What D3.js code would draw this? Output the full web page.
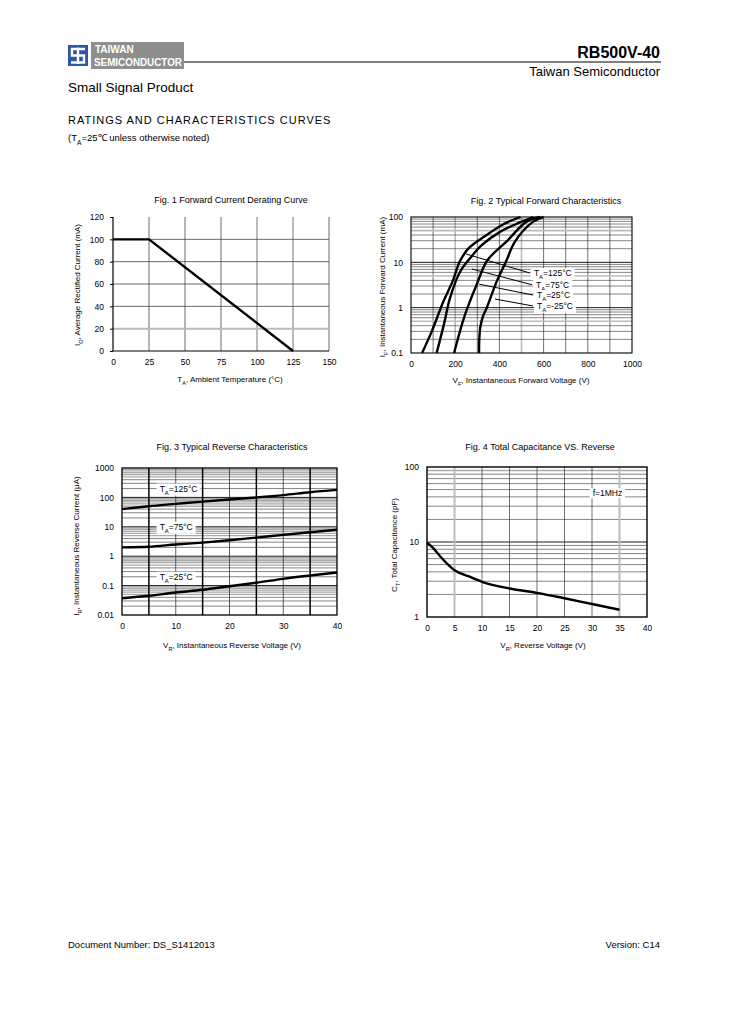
<!DOCTYPE html>
<html>
<head>
<meta charset="utf-8">
<script src="https://cdnjs.cloudflare.com/ajax/libs/d3/7.8.5/d3.min.js"></script>
<style>
  body { margin: 0; background: #fff; }
  svg { display: block; font-family: "Liberation Sans", Arial, sans-serif; }
</style>
</head>
<body>
<svg id="page" width="729" height="1032"></svg>
<script>
// --- données ---
// Fig. 1 : courbe de déclassement
const fig1Temp = [0, 25, 125];
const fig1Current = [100, 100, 0];
const fig1XTicks = [0, 25, 50, 75, 100, 125, 150];
const fig1YTicks = [0, 20, 40, 60, 80, 100, 120];

// Fig. 2 : caractéristiques directes (V, mA)
const fig2Labels = ['125', '75', '25', '-25'];
const vf125 = [50, 94, 146, 191, 219, 259, 342, 420, 495];
const if125 = [0.1, 0.3, 1.35, 4.1, 10, 20, 40, 70, 100];
const vf75 = [116, 150, 176, 222, 267, 320, 403, 490, 553];
const if75 = [0.1, 0.45, 1.6, 6.2, 12.3, 24, 47, 75, 100];
const vf25 = [195, 244, 297, 345, 433, 523, 584];
const if25 = [0.1, 0.69, 3.2, 11, 29, 79, 100];
const vfm25 = [308, 309, 314, 326, 342, 388, 430, 471, 553, 600];
const ifm25 = [0.1, 0.2, 0.38, 0.65, 0.97, 3.8, 10.4, 29, 79, 100];
// repères (début sur la courbe, fin près de l'étiquette)
const fig2LeaderV = [[249, 538], [276, 548], [308, 552], [380, 552]];
const fig2LeaderI = [[15.3, 5.8], [7.1, 3.2], [3.3, 1.9], [1.55, 1.09]];
const fig2XTicks = [0, 200, 400, 600, 800, 1000];
const fig2YTicks = [0.1, 1, 10, 100];

// Fig. 3 : caractéristiques inverses (V, µA)
const fig3Volt = [0, 5, 10, 15, 20, 25, 30, 35, 40];
const ir125 = [40, 50, 60, 72, 85, 100, 120, 150, 180];
const ir75 = [2, 2.1, 2.5, 2.9, 3.5, 4.3, 5.3, 6.5, 8];
const ir25 = [0.037, 0.045, 0.058, 0.072, 0.095, 0.125, 0.17, 0.22, 0.28];
const fig3Labels = ['125', '75', '25'];
const fig3LabelV = [7, 7, 7];
const fig3LabelI = [200, 10, 0.2];
const fig3XTicks = [0, 10, 20, 30, 40];
const fig3YTicks = [0.01, 0.1, 1, 10, 100, 1000];

// Fig. 4 : capacité totale (V, pF)
const fig4Volt = [0, 1, 2.5, 5, 7.5, 10, 15, 20, 25, 30, 35];
const fig4Cap = [9.8, 8.5, 6.3, 4.2, 3.5, 2.95, 2.4, 2.1, 1.78, 1.49, 1.25];
const fig4XTicks = [0, 5, 10, 15, 20, 25, 30, 35, 40];
const fig4YTicks = [1, 10, 100];

const svg = d3.select('#page');

// texte avec indices : parts = [[texte, estIndice], ...]
function subText(sel, parts, size) {
  parts.forEach(([t, sub]) => {
    const ts = sel.append('tspan').text(t);
    if (sub) ts.attr('font-size', size * 0.7).attr('baseline-shift', 'sub');
  });
  return sel;
}

function minorLog(lo, hi) {
  const out = [];
  for (let d = lo; d < hi; d *= 10) for (let k = 2; k <= 9; k++) out.push(d * k);
  return out;
}
const mant = v => Math.round(v / Math.pow(10, Math.floor(Math.log10(v) + 1e-9)));

function plot(box, xDom, yDom, yLog) {
  const x = d3.scaleLinear().domain(xDom).range([box.l, box.r]);
  const y = (yLog ? d3.scaleLog() : d3.scaleLinear()).domain(yDom).range([box.b, box.t]);
  const g = svg.append('g');
  return { x, y, g, box };
}

function vline(p, v, color, w) {
  p.g.append('line').attr('x1', p.x(v)).attr('x2', p.x(v)).attr('y1', p.box.t).attr('y2', p.box.b)
    .attr('stroke', color).attr('stroke-width', w);
}
function hline(p, v, color, w) {
  p.g.append('line').attr('y1', p.y(v)).attr('y2', p.y(v)).attr('x1', p.box.l).attr('x2', p.box.r)
    .attr('stroke', color).attr('stroke-width', w);
}

function axes(p, xTicks, yTicks, yFmt, ySize) {
  const ax = p.g.append('g').attr('transform', `translate(0,${p.box.b})`)
    .call(d3.axisBottom(p.x).tickValues(xTicks).tickSize(0).tickPadding(8).tickFormat(d3.format('d')));
  const ay = p.g.append('g').attr('transform', `translate(${p.box.l},0)`)
    .call(d3.axisLeft(p.y).tickValues(yTicks).tickSize(ySize || 0).tickPadding(ySize ? 6 : 8).tickFormat(yFmt));
  [ax, ay].forEach(a => {
    a.select('.domain').remove();
    a.selectAll('text').attr('font-size', 8.5).attr('fill', '#000')
      .attr('font-family', '"Liberation Sans", Arial, sans-serif');
    a.selectAll('line').attr('stroke', '#000');
  });
}

function frame(p, w) {
  p.g.append('rect').attr('x', p.box.l).attr('y', p.box.t)
    .attr('width', p.box.r - p.box.l).attr('height', p.box.b - p.box.t)
    .attr('fill', 'none').attr('stroke', '#000').attr('stroke-width', w);
}

function title(t, cx, y) {
  svg.append('text').attr('x', cx).attr('y', y).attr('text-anchor', 'middle')
    .attr('font-size', 9).text(t);
}
function xLabel(parts, cx, y) {
  subText(svg.append('text').attr('x', cx).attr('y', y).attr('text-anchor', 'middle')
    .attr('font-size', 8), parts, 8);
}
function yLabel(parts, x, cy) {
  subText(svg.append('text').attr('transform', `translate(${x},${cy}) rotate(-90)`)
    .attr('text-anchor', 'middle').attr('font-size', 8), parts, 8);
}

// étiquette sur fond blanc
function boxedLabel(p, vx, vy, parts, anchor) {
  const t = p.g.append('text').attr('x', p.x(vx)).attr('y', p.y(vy)).attr('dy', '0.35em')
    .attr('text-anchor', anchor || 'start').attr('font-size', 8.5);
  subText(t, parts, 8.5);
  const bb = t.node().getBBox();
  p.g.insert('rect', () => t.node()).attr('x', bb.x - 3).attr('y', bb.y)
    .attr('width', bb.width + 6).attr('height', bb.height).attr('fill', '#fff');
}

function curve(p, xs, ys, kind, w) {
  const pts = xs.map((v, i) => [v, ys[i]]);
  p.g.append('path').datum(pts)
    .attr('d', d3.line().x(d => p.x(d[0])).y(d => p.y(d[1])).curve(kind))
    .attr('fill', 'none').attr('stroke', '#000').attr('stroke-width', w || 2.4)
    .attr('stroke-linejoin', 'round');
}

const taParts = t => [['T', false], ['A', true], ['=' + t + '°C', false]];

// ---------- en-tête ----------
svg.append('rect').attr('x', 68).attr('y', 45).attr('width', 20).attr('height', 21).attr('fill', '#2b57a4');
svg.append('path').attr('d', 'M85,49 H72 V55.5 H84 V62.5 H71 M78,47.5 V64')
  .attr('fill', 'none').attr('stroke', '#fff').attr('stroke-width', 2.4);
svg.append('rect').attr('x', 91).attr('y', 42).attr('width', 93).attr('height', 27).attr('fill', '#8e8e8e');
svg.append('text').attr('x', 95).attr('y', 53).attr('fill', '#fff').attr('font-size', 10)
  .attr('font-weight', 'bold').text('TAIWAN');
svg.append('text').attr('x', 94).attr('y', 66).attr('fill', '#fff').attr('font-size', 11)
  .attr('font-weight', 'bold').attr('textLength', 88).attr('lengthAdjust', 'spacingAndGlyphs')
  .text('SEMICONDUCTOR');
svg.append('line').attr('x1', 184).attr('x2', 661).attr('y1', 62).attr('y2', 62)
  .attr('stroke', '#000').attr('stroke-width', 1);
svg.append('text').attr('x', 660).attr('y', 58).attr('text-anchor', 'end').attr('font-size', 16)
  .attr('font-weight', 'bold').text('RB500V-40');
svg.append('text').attr('x', 660).attr('y', 76).attr('text-anchor', 'end').attr('font-size', 13)
  .text('Taiwan Semiconductor');
svg.append('text').attr('x', 68).attr('y', 92).attr('font-size', 13.5).text('Small Signal Product');
svg.append('text').attr('x', 68).attr('y', 124).attr('font-size', 11).attr('letter-spacing', 1)
  .text('RATINGS AND CHARACTERISTICS CURVES');
subText(svg.append('text').attr('x', 68).attr('y', 141).attr('font-size', 9.5),
  [['(T', false], ['A', true], ['=25℃ unless otherwise noted)', false]], 9.5);

// ---------- Fig. 1 ----------
const p1 = plot({ l: 113, r: 329, t: 217, b: 351 }, [0, 150], [0, 120], false);
[25, 50, 75].forEach(v => vline(p1, v, '#444', 0.8));
[100, 125].forEach(v => vline(p1, v, '#bbb', 2));
vline(p1, 150, '#444', 0.8);
[40, 60, 80, 100].forEach(v => hline(p1, v, '#444', 0.8));
hline(p1, 20, '#bbb', 2);
p1.g.append('line').attr('x1', 113).attr('x2', 113).attr('y1', 217).attr('y2', 351).attr('stroke', '#000').attr('stroke-width', 1.2);
p1.g.append('line').attr('x1', 113).attr('x2', 329).attr('y1', 351).attr('y2', 351).attr('stroke', '#000').attr('stroke-width', 1.2);
curve(p1, fig1Temp, fig1Current, d3.curveLinear, 2.4);
axes(p1, fig1XTicks, fig1YTicks, d3.format('d'), 3);
title('Fig. 1 Forward Current Derating Curve', 231, 203);
xLabel([['T', false], ['A', true], [', Ambient Temperature (°C)', false]], 230, 382);
yLabel([['I', false], ['O', true], [', Average Rectified Current (mA)', false]], 80, 285);

// ---------- Fig. 2 ----------
const p2 = plot({ l: 411, r: 632, t: 217, b: 353 }, [0, 1000], [0.1, 100], true);
d3.range(100, 1000, 100).forEach(v => vline(p2, v, v === 200 || v === 500 ? '#bbb' : '#333', v === 200 || v === 500 ? 1.6 : 0.7));
minorLog(0.1, 100).forEach(v => {
  const k = mant(v);
  hline(p2, v, k === 5 ? '#bbb' : '#333', k === 5 ? 1.6 : 0.6);
});
[1, 10].forEach(v => hline(p2, v, '#000', 0.9));
frame(p2, 1.1);
curve(p2, vf125, if125, d3.curveCatmullRom.alpha(0.5));
curve(p2, vf75, if75, d3.curveCatmullRom.alpha(0.5));
curve(p2, vf25, if25, d3.curveCatmullRom.alpha(0.5));
curve(p2, vfm25, ifm25, d3.curveCatmullRom.alpha(0.5));
fig2LeaderV.forEach((vs, i) => {
  p2.g.append('line').attr('x1', p2.x(vs[0])).attr('y1', p2.y(fig2LeaderI[i][0]))
    .attr('x2', p2.x(vs[1])).attr('y2', p2.y(fig2LeaderI[i][1]))
    .attr('stroke', '#000').attr('stroke-width', 1);
  boxedLabel(p2, vs[1] + 18, fig2LeaderI[i][1], taParts(fig2Labels[i]));
});
axes(p2, fig2XTicks, fig2YTicks, d => d < 1 ? '0.1' : d3.format('d')(d));
title('Fig. 2 Typical Forward Characteristics', 546, 204);
xLabel([['V', false], ['F', true], [', Instantaneous Forward Voltage (V)', false]], 521, 383);
yLabel([['I', false], ['F', true], [', Instantaneous Forward Current (mA)', false]], 385, 287);

// ---------- Fig. 3 ----------
const p3 = plot({ l: 122, r: 337, t: 468, b: 615 }, [0, 40], [0.01, 1000], true);
minorLog(0.01, 1000).forEach(v => {
  const k = mant(v);
  hline(p3, v, k >= 5 ? '#aaa' : '#333', k >= 5 ? 1.3 : 0.6);
});
[0.1, 1, 10, 100].forEach(v => hline(p3, v, '#000', 0.9));
[10, 20, 30].forEach(v => vline(p3, v, '#333', 0.8));
[5, 15, 25, 35].forEach(v => vline(p3, v, '#000', 1.5));
frame(p3, 1.3);
fig3Labels.forEach((t, i) => boxedLabel(p3, fig3LabelV[i], fig3LabelI[i], taParts(t)));
curve(p3, fig3Volt, ir125, d3.curveMonotoneX);
curve(p3, fig3Volt, ir75, d3.curveMonotoneX);
curve(p3, fig3Volt, ir25, d3.curveMonotoneX);
axes(p3, fig3XTicks, fig3YTicks, d => d < 1 ? String(d) : d3.format('d')(d));
title('Fig. 3 Typical Reverse Characteristics', 232, 450);
xLabel([['V', false], ['R', true], [', Instantaneous Reverse Voltage (V)', false]], 232, 648);
yLabel([['I', false], ['R', true], [', Instantaneous Reverse Current (μA)', false]], 79, 546);

// ---------- Fig. 4 ----------
const p4 = plot({ l: 427, r: 647, t: 467, b: 617 }, [0, 40], [1, 100], true);
minorLog(1, 100).forEach(v => {
  const grey = v === 90 || v === 80;
  hline(p4, v, grey ? '#aaa' : '#333', grey ? 1.4 : 0.6);
});
hline(p4, 10, '#000', 0.9);
[10, 15, 20, 25, 30].forEach(v => vline(p4, v, '#333', 0.7));
[5, 35].forEach(v => vline(p4, v, '#bbb', 2));
frame(p4, 1.4);
boxedLabel(p4, 32.8, 44.7, [['f=1MHz', false]], 'middle');
curve(p4, fig4Volt, fig4Cap, d3.curveMonotoneX);
axes(p4, fig4XTicks, fig4YTicks, d3.format('d'));
title('Fig. 4 Total Capacitance VS. Reverse', 540, 450);
xLabel([['V', false], ['R', true], [', Reverse Voltage (V)', false]], 543, 648);
yLabel([['C', false], ['T', true], [', Total Capacitance (pF)', false]], 397, 545);

// ---------- pied de page ----------
svg.append('text').attr('x', 68).attr('y', 948).attr('font-size', 9.5).text('Document Number: DS_S1412013');
svg.append('text').attr('x', 660).attr('y', 948).attr('text-anchor', 'end').attr('font-size', 9.5).text('Version: C14');
</script>
</body>
</html>
